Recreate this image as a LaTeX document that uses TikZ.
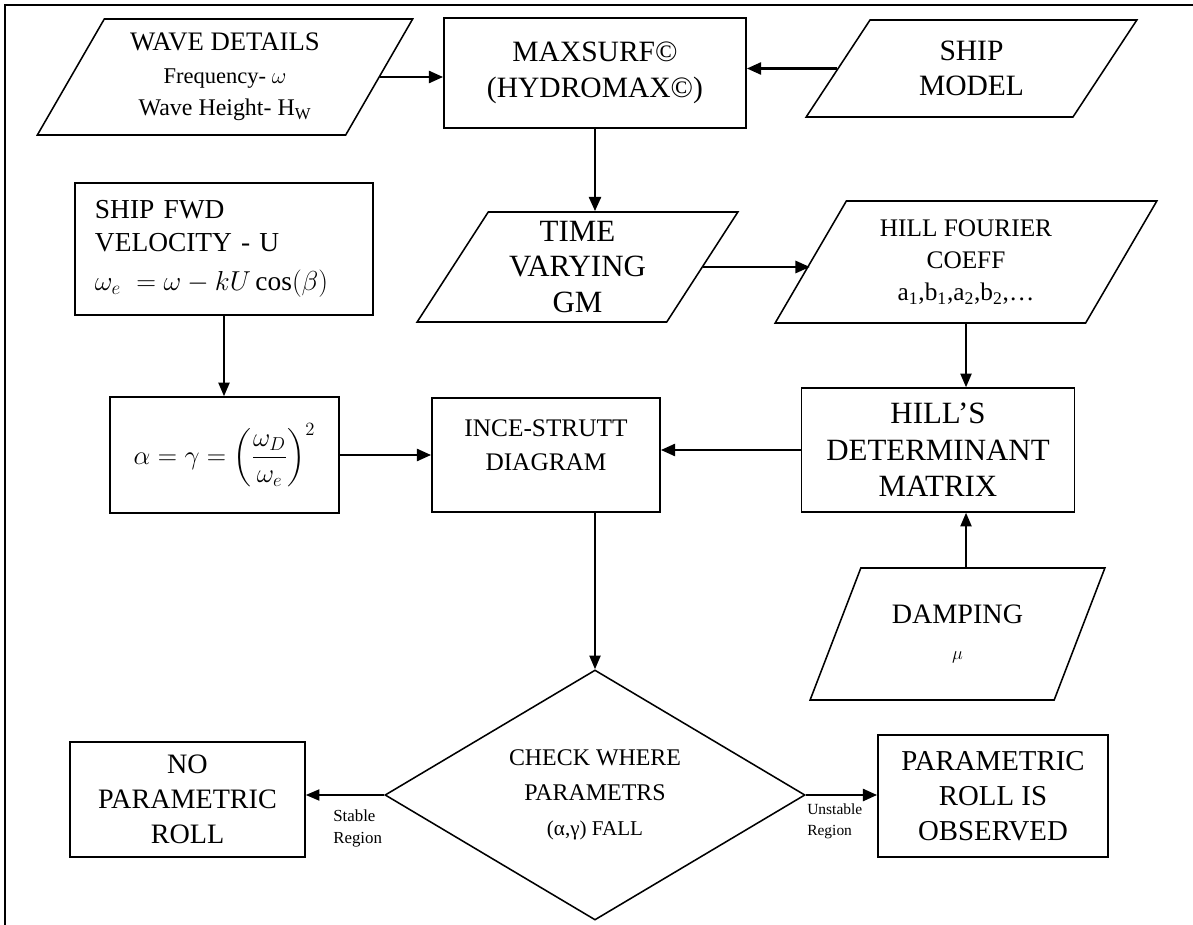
\RequirePackage{fix-cm}
\documentclass[tikz,border=0pt]{standalone}
\usepackage{amsmath}
\usepackage{fontspec}
\setmainfont{Liberation Serif}
\usetikzlibrary{shapes.geometric,arrows.meta}

\begin{document}
\begin{tikzpicture}[x=0.025cm,y=-0.025cm]
    \useasboundingbox (0,0) rectangle (1193,925);
    \tikzstyle{boite}=[draw,line width=1.1pt,rectangle,align=center,inner sep=2pt,font=\fontsize{19}{23}\selectfont]
    \tikzstyle{donnee}=[draw,line width=1.1pt,trapezium,trapezium left angle=59,trapezium right angle=121,trapezium stretches=true,align=center,inner sep=0pt,font=\fontsize{19}{23}\selectfont]
    \tikzstyle{fleche}=[-{Triangle[length=0.36cm,width=0.3cm]},line width=2pt]
    \tikzstyle{fleche2}=[-{Triangle[length=0.34cm,width=0.28cm]},line width=1.1pt]

    %%%%%%%%%%%%%%%%%%%%%%%%%%%%%%%%%%%%%% Cadre
    \draw[line width=1.3pt] (5,925)--(5,5)--(1193,5);

    %%%%%%%%%%%%%%%%%%%%%%%%%%%%%%%%%%%%%% Entrées
    \node[donnee,minimum width=9.4cm,minimum height=2.9cm] (wave) at (225,77)
        {WAVE DETAILS\\{\fontsize{16}{21}\selectfont Frequency- $\omega$}\\{\fontsize{17}{21}\selectfont Wave Height- H\textsubscript{W}}};
    \node[boite,minimum width=7.55cm,minimum height=2.75cm,font=\fontsize{21}{26}\selectfont] (maxsurf) at (595,73)
        {MAXSURF©\\(HYDROMAX©)};
    \node[donnee,minimum width=8.275cm,minimum height=2.425cm,font=\fontsize{21}{25}\selectfont] (ship) at (971.5,68.5)
        {SHIP\\MODEL};

    \node[donnee,minimum width=8.025cm,minimum height=2.75cm,font=\fontsize{22}{25}\selectfont] (time) at (577.5,267)
        {TIME\\VARYING\\GM};
    \node[donnee,minimum width=9.55cm,minimum height=3.05cm,font=\fontsize{18}{23}\selectfont] (fourier) at (966,262)
        {HILL FOURIER\\COEFF\\a\textsubscript{1},b\textsubscript{1},a\textsubscript{2},b\textsubscript{2},\dots};

    \node[boite,minimum width=7.45cm,minimum height=3.3cm,text width=6.45cm,align=left,inner xsep=0.5cm,font=\fontsize{19.5}{23}\selectfont] (fwd) at (224,249)
        {SHIP FWD\\VELOCITY - U\\[5pt]$\omega_e\; = \omega - kU\cos(\beta)$};

    %%%%%%%%%%%%%%%%%%%%%%%%%%%%%%%%%%%%%% Calculs
    \node[boite,minimum width=5.725cm,minimum height=2.9cm,font=\fontsize{19}{23}\selectfont] (alpha) at (224.5,455)
        {$\alpha=\gamma=\left(\dfrac{\omega_D}{\omega_e}\right)^{2}$};
    \node[boite,minimum width=5.7cm,minimum height=2.85cm,text depth=0.5cm,font=\fontsize{18}{24}\selectfont] (ince) at (546,455)
        {INCE-STRUTT\\DIAGRAM};
    \node[boite,minimum width=6.825cm,minimum height=3.1cm,font=\fontsize{22}{26}\selectfont] (det) at (938,450)
        {HILL’S\\DETERMINANT\\MATRIX};
    \node[donnee,minimum width=7.375cm,minimum height=3.3cm,font=\fontsize{20}{23}\selectfont] (damp) at (957.5,634)
        {DAMPING\\[2pt]{\fontsize{13}{15}\selectfont$\mu$}};

    %%%%%%%%%%%%%%%%%%%%%%%%%%%%%%%%%%%%%% Test
    \node[draw,line width=1.1pt,diamond,aspect=1.68,minimum width=10.5cm,minimum height=6.25cm,inner sep=0pt,align=center,font=\fontsize{17}{25}\selectfont] (check) at (595,795)
        {CHECK WHERE\\PARAMETRS\\{\fontsize{15}{21}\selectfont(α,γ) FALL}};
    \node[boite,minimum width=5.875cm,minimum height=2.875cm,font=\fontsize{20}{25}\selectfont] (noroll) at (187.5,799.5)
        {NO\\PARAMETRIC\\ROLL};
    \node[boite,minimum width=5.75cm,minimum height=3.05cm,font=\fontsize{20.5}{25}\selectfont] (roll) at (993,796)
        {PARAMETRIC\\ROLL IS\\OBSERVED};

    \node[anchor=north west,align=left,inner sep=0pt,font=\fontsize{12}{15}\selectfont] (stable) at (333,810) {Stable\\Region};
    \node[anchor=north west,align=left,inner sep=0pt,font=\fontsize{11}{15}\selectfont] (unstable) at (807,803) {Unstable\\Region};

    %%%%%%%%%%%%%%%%%%%%%%%%%%%%%%%%%%%%%% Flèches
    \draw[fleche] (wave.east) -- (wave.east -| maxsurf.west);
    \draw[fleche] (ship.west) -- (ship.west -| maxsurf.east);
    \draw[fleche] (maxsurf.south) -- (maxsurf.south |- time.north);
    \draw[fleche] (time.east) -- (time.east -| fourier.west);
    \draw[fleche2] (fourier.south) -- (fourier.south |- det.north);
    \draw[fleche2] (fourier.south |- damp.north) -- (fourier.south |- det.south);
    \draw[fleche] (det.west) -- (det.west -| ince.east);
    \draw[fleche] (alpha.east) -- (alpha.east -| ince.west);
    \draw[fleche2] (fwd.south) -- (fwd.south |- alpha.north);
    \draw[fleche2] (ince.south -| check.north) -- (check.north);
    \draw[fleche2] (check.west) -- (check.west -| noroll.east);
    \draw[fleche] (check.east) -- (check.east -| roll.west);
\end{tikzpicture}
\end{document}
